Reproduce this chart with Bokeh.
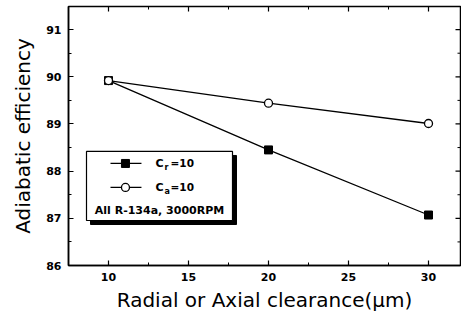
import math
from bokeh.plotting import figure
from bokeh.models import SingleIntervalTicker, Range1d
from bokeh.core.properties import value
from bokeh.embed import file_html
from bokeh.resources import INLINE

# ---- data ----
clearance = [10, 20, 30]
eff_cr10 = [89.92, 88.45, 87.07]   # C_r = 10 (filled squares)
eff_ca10 = [89.92, 89.44, 89.01]   # C_a = 10 (open circles)
x_ticks = [10, 15, 20, 25, 30]
x_minor = [7.5, 12.5, 17.5, 22.5, 27.5]
y_ticks = [86, 87, 88, 89, 90, 91]
y_minor = [86.5, 87.5, 88.5, 89.5, 90.5]
note_text = "All R-134a, 3000RPM"

FONT = "DejaVu Sans"
XMIN, XMAX = 7.5, 32.0
YMIN, YMAX = 86.0, 91.49

p = figure(width=461, height=318, output_backend="svg", toolbar_location=None,
           x_range=Range1d(XMIN, XMAX), y_range=Range1d(YMIN, YMAX),
           min_border_left=68, min_border_right=1, min_border_top=6,
           min_border_bottom=53)
p.xgrid.visible = False
p.ygrid.visible = False
p.outline_line_color = "black"
p.outline_line_width = 1.5
p.background_fill_color = "white"
p.border_fill_color = "white"

def style_axis(ax, ticker):
    ax.ticker = ticker
    ax.axis_line_color = "black"
    ax.axis_line_width = 1.5
    ax.major_tick_in = 5
    ax.major_tick_out = 0
    ax.minor_tick_in = 3
    ax.minor_tick_out = 0
    ax.major_tick_line_width = 1.2
    ax.minor_tick_line_width = 1.0
    ax.major_tick_line_color = "black"
    ax.minor_tick_line_color = "black"
    ax.major_label_text_font = FONT
    ax.major_label_text_font_style = "bold"
    ax.major_label_text_font_size = "11px"
    ax.major_label_text_color = "black"
    ax.axis_label_text_font = FONT
    ax.axis_label_text_font_style = "normal"
    ax.axis_label_text_font_size = "20px"
    ax.axis_label_text_color = "black"

style_axis(p.xaxis[0], SingleIntervalTicker(interval=5, num_minor_ticks=2))
style_axis(p.yaxis[0], SingleIntervalTicker(interval=1, num_minor_ticks=2))
p.xaxis[0].major_label_standoff = 7
p.yaxis[0].major_label_standoff = 7
p.xaxis[0].axis_label = "Radial or Axial clearance(\u03bcm)"
p.yaxis[0].axis_label = "Adiabatic efficiency"
p.xaxis[0].axis_label_standoff = 4
p.yaxis[0].axis_label_standoff = 8

# mirrored ticks on top and right edges (dashes centred on the frame edge,
# the outer half is clipped by the frame)
p.scatter(x_ticks, [YMAX] * len(x_ticks), marker="dash", angle=math.pi / 2,
          size=10, line_color="black", line_width=1.2)
p.scatter(x_minor, [YMAX] * len(x_minor), marker="dash", angle=math.pi / 2,
          size=6, line_color="black", line_width=1.0)
p.scatter([XMAX] * len(y_ticks), y_ticks, marker="dash", size=10,
          line_color="black", line_width=1.2)
p.scatter([XMAX] * len(y_minor), y_minor, marker="dash", size=6,
          line_color="black", line_width=1.0)

# ---- data series ----
p.line(clearance, eff_cr10, line_color="black", line_width=1.3)
p.scatter(clearance, eff_cr10, marker="square", size=8, fill_color="black",
          line_color="black")
p.line(clearance, eff_ca10, line_color="black", line_width=1.3)
p.scatter(clearance, eff_ca10, marker="circle", size=8, fill_color="white",
          line_color="black", line_width=1.3)

# ---- legend box (layout positions in data units) ----
lx0, lx1, ly0, ly1 = 8.625, 17.75, 86.954, 88.417
dx, dy = 0.25, 0.085
p.quad(left=[lx0 + dx], right=[lx1 + dx], bottom=[ly0 - dy], top=[ly1 - dy],
       fill_color="black", line_color="black")
p.quad(left=[lx0], right=[lx1], bottom=[ly0], top=[ly1],
       fill_color="white", line_color="black", line_width=1.2)

row1, row2, row3 = 88.163, 87.654, 87.166
sx0, sx1, sxm, tx = 10.125, 12.06, 11.06, 12.94
p.line([sx0, sx1], [row1, row1], line_color="black", line_width=1.3)
p.scatter([sxm], [row1], marker="square", size=8, fill_color="black", line_color="black")
p.line([sx0, sx1], [row2, row2], line_color="black", line_width=1.3)
p.scatter([sxm], [row2], marker="circle", size=8, fill_color="white",
          line_color="black", line_width=1.3)

def legend_label(y, sub):
    common = dict(text_font=value(FONT), text_font_style="bold",
                  text_color="black", text_baseline="middle")
    p.text([tx], [y], text=["C"], text_font_size="11px", **common)
    p.text([tx], [y], text=[sub], text_font_size="8px", x_offset=9, y_offset=4, **common)
    p.text([tx], [y], text=["=10"], text_font_size="10.5px", x_offset=15, **common)

legend_label(row1, "r")
legend_label(row2, "a")
p.text([(lx0 + lx1) / 2], [row3], text=[note_text], text_font=value(FONT),
       text_font_style="bold", text_font_size="11px", text_color="black",
       text_align="center", text_baseline="middle")

open("out.html", "w").write(file_html(p, INLINE))
